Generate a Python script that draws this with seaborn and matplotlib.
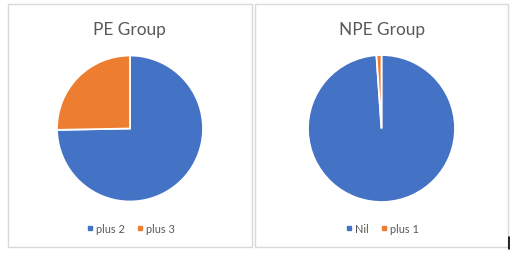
import matplotlib
matplotlib.use("Agg")
import matplotlib.pyplot as plt
import seaborn as sns
from matplotlib.patches import Rectangle
from matplotlib.lines import Line2D

sns.set_theme(style="white")
plt.rcParams['font.family'] = ['Lato', 'DejaVu Sans']

# Data
pe_labels = ["plus 2", "plus 3"]
pe_values = [74.7, 25.3]
npe_labels = ["Nil", "plus 1"]
npe_values = [98.9, 1.1]
titles = ["PE Group", "NPE Group"]
colors = ["#4472C4", "#ED7D31"]

W, H = 516, 255
fig = plt.figure(figsize=(W / 100, H / 100), dpi=100)
fig.patch.set_facecolor("white")

def fx(x):
    return x / W

def fy(y):
    return 1 - y / H

# panel borders (pixel coords: left, top, right, bottom)
panels = [(8, 5, 252, 248), (255, 5, 508, 248)]
for (l, t, r, b) in panels:
    fig.patches.append(Rectangle((fx(l), fy(b)), fx(r - l), (b - t) / H,
                                 transform=fig.transFigure, fill=False,
                                 edgecolor="#D9D9D9", linewidth=1.0))

# pie placement (center x, center y, radius) in pixels
pies = [(130, 129.5, 73, pe_values, pe_labels, titles[0], 129.5, 131.5),
        (381.5, 129.5, 73.5, npe_values, npe_labels, titles[1], 381.7, 383.0)]

for cx, cy, r, vals, labs, title, tx, lx in pies:
    ax = fig.add_axes([fx(cx - r), fy(cy + r), 2 * r / W, 2 * r / H])
    ax.pie(vals, colors=colors, startangle=90, counterclock=False,
           wedgeprops=dict(edgecolor="white", linewidth=1.3))
    ax.set_xlim(-1, 1)
    ax.set_ylim(-1, 1)
    ax.set_aspect("auto")
    ax.axis("off")
    fig.text(fx(tx), fy(34.5), title, ha="center", va="baseline",
             fontsize=12.4, color="#595959")
    handles = [Line2D([0], [0], marker="s", linestyle="none", markersize=2.8,
                      markerfacecolor=c, markeredgecolor=c) for c in colors]
    fig.legend(handles, labs, loc="center", ncol=2,
               bbox_to_anchor=(fx(lx), fy(229.5)),
               frameon=False, fontsize=7.9, labelcolor="#595959",
               handlelength=0.34, handletextpad=0.34, columnspacing=1.25,
               borderpad=0, borderaxespad=0)

# small cursor mark at lower right
fig.add_artist(Line2D([fx(509), fx(509)], [fy(238), fy(250)],
                      transform=fig.transFigure, color="black", linewidth=1.2))

fig.savefig("out.png", dpi=100, facecolor="white")
